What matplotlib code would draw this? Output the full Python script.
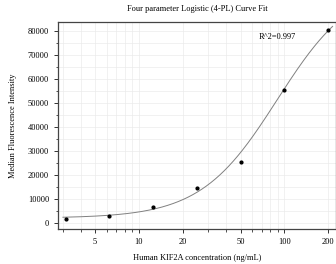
import numpy as np
import matplotlib
matplotlib.use("Agg")
import matplotlib.pyplot as plt
from matplotlib.ticker import FixedLocator, NullFormatter, MultipleLocator

plt.rcParams['font.family'] = ['Liberation Serif', 'DejaVu Serif']

conc = [3.125, 6.25, 12.5, 25, 50, 100, 200]
mfi = [1500, 3000, 6600, 14500, 25600, 55700, 80500]

# 4PL fit parameters (A bottom, D top, C EC50, B slope)
fit_A, fit_D, fit_C, fit_B = 2000, 101000, 89.5, 1.65
r2_text = "R^2=0.997"

xticks = [5, 10, 20, 50, 100, 200]
yticks = [0, 10000, 20000, 30000, 40000, 50000, 60000, 70000, 80000]

fig = plt.figure(figsize=(3.36, 2.64), dpi=100)
ax = fig.add_axes([0.173, 0.133, 0.827, 0.784])

xs = np.logspace(np.log10(3.0), np.log10(215), 300)
ys = fit_D + (fit_A - fit_D) / (1 + (xs / fit_C) ** fit_B)
ax.plot(xs, ys, color='#808080', lw=0.7, zorder=2)
ax.scatter(conc, mfi, s=4, color='black', zorder=3)

ax.set_xscale('log')
ax.set_xlim(2.78, 227)
ax.set_ylim(-2500, 84000)
ax.xaxis.set_major_locator(FixedLocator(xticks))
ax.set_xticklabels([str(t) for t in xticks])
minors = [m * 10 ** e for e in range(0, 3) for m in range(2, 10)]
ax.xaxis.set_minor_locator(FixedLocator(minors))
ax.xaxis.set_minor_formatter(NullFormatter())
ax.yaxis.set_major_locator(FixedLocator(yticks))
ax.yaxis.set_minor_locator(MultipleLocator(5000))

ax.grid(True, which='both', color='#ebebeb', lw=0.5, zorder=0)
ax.set_axisbelow(True)
ax.tick_params(which='major', length=3, width=0.7, labelsize=6, direction='out', colors='#333333', labelcolor='black')
ax.tick_params(which='minor', length=1.8, width=0.6, direction='out', colors='#333333')
for s in ax.spines.values():
    s.set_color('#444444')
    s.set_linewidth(0.9)

ax.text(67, 77500, r2_text, fontsize=6, va='center', ha='left')
ax.set_title("Four parameter Logistic (4-PL) Curve Fit", fontsize=6, pad=8)
ax.set_xlabel("Human KIF2A concentration (ng/mL)", fontsize=6, labelpad=6)
ax.set_ylabel("Median Fluorescence Intensity", fontsize=6, labelpad=8)

fig.savefig("out.png", dpi=100)
